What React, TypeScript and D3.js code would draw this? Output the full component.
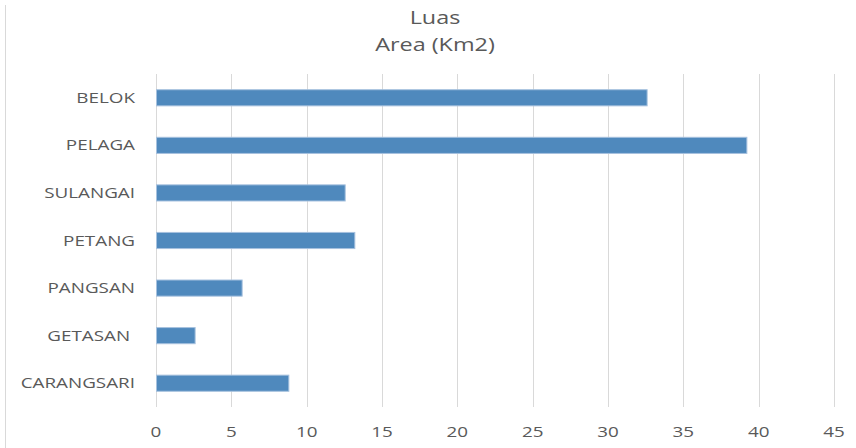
import React from "react";
import * as d3 from "d3";

const categories = ["BELOK", "PELAGA", "SULANGAI", "PETANG", "PANGSAN", "GETASAN ", "CARANGSARI"];
const values = [32.63, 39.25, 12.59, 13.23, 5.75, 2.63, 8.85];
const ticks = [0, 5, 10, 15, 20, 25, 30, 35, 40, 45];
const titleLines = ["Luas", "Area (Km2)"];

const W = 856;
const H = 448;
const SX = 1.3;
const font = "'Open Sans', sans-serif";
const textColor = "#595959";

export default function App() {
  const x = d3.scaleLinear().domain([0, 45]).range([156, 834]);
  const y = d3.scaleBand<string>().domain(categories).range([74, 407]).paddingInner(0.64).paddingOuter(0.32);
  return (
    <svg width={W} height={H} style={{ position: "absolute", left: 0, top: 0, background: "#fff" }}>
      <rect x={0} y={0} width={W} height={H} fill="#fff" />
      <line x1={5.5} x2={5.5} y1={5} y2={H} stroke="#d9d9d9" strokeWidth={1} />
      {titleLines.map((t, i) => (
        <text
          key={t}
          transform={`translate(435,${24 + i * 27}) scale(${SX},1)`}
          textAnchor="middle"
          fontFamily={font}
          fontSize={18}
          fill={textColor}
        >
          {t}
        </text>
      ))}
      {ticks.map((t) => (
        <line key={"g" + t} x1={Math.round(x(t)) + 0.5} x2={Math.round(x(t)) + 0.5} y1={74} y2={407} stroke="#d9d9d9" strokeWidth={1} />
      ))}
      {ticks.map((t) => (
        <text
          key={"t" + t}
          transform={`translate(${x(t)},437) scale(${SX},1)`}
          textAnchor="middle"
          fontFamily={font}
          fontSize={14.5}
          fill={textColor}
        >
          {t}
        </text>
      ))}
      {categories.map((c, i) => {
        const yy = y(c)!;
        const bh = y.bandwidth();
        return (
          <g key={c}>
            <rect x={x(0) + 0.5} y={yy + 0.5} width={x(values[i]) - x(0) - 1} height={bh - 1} fill="#4f89bd" stroke="#a6c1de" strokeWidth={1} />
            <text
              transform={`translate(135,${yy + bh / 2 + 5}) scale(${SX},1)`}
              textAnchor="end"
              fontFamily={font}
              fontSize={14.5}
              fill={textColor}
              style={{ whiteSpace: "pre" }}
            >
              {c}
            </text>
          </g>
        );
      })}
    </svg>
  );
}
